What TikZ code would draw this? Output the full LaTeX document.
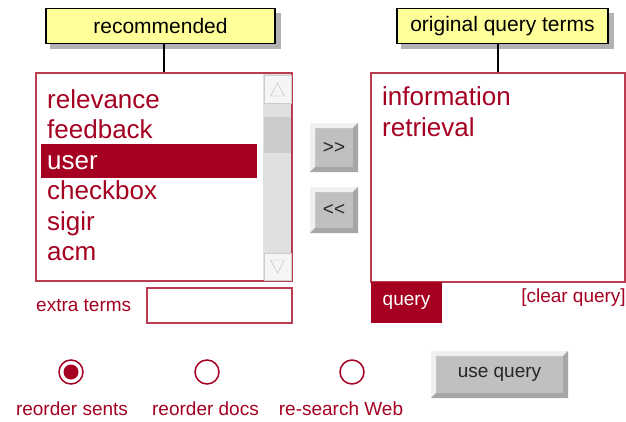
\documentclass[tikz,border=0pt]{standalone}
\usepackage{fontspec}
\setmainfont{Liberation Sans}
\usetikzlibrary{positioning,backgrounds}
\definecolor{darkred}{RGB}{165,0,33}
\definecolor{framered}{RGB}{185,60,80}
\definecolor{labelyellow}{RGB}{255,255,153}
\definecolor{scrollgray}{RGB}{224,224,224}
\definecolor{thumbgray}{RGB}{204,204,204}
\definecolor{btngray}{RGB}{192,192,192}
\begin{document}
\begin{tikzpicture}[x=1pt, y=-1pt,
	tag/.style={draw, line width=1.5pt, fill=labelyellow, minimum width=229pt, minimum height=35pt, font=\fontsize{21}{24}\selectfont},
	tagshadow/.style={fill=gray!60},
	listbox/.style={draw=framered, line width=1.5pt, fill=white, rectangle, inner sep=0pt},
	item/.style={anchor=base west, inner sep=0pt, font=\fontsize{26}{30}\selectfont},
	smalltext/.style={text=darkred, inner sep=0pt, font=\fontsize{19}{22}\selectfont},
	bevelbtn/.style={fill=btngray, inner sep=0pt, text=black!85, font=\fontsize{19}{22}\selectfont,
		path picture={
			\fill[gray!12] (path picture bounding box.north west) -- (path picture bounding box.north east)
				-- ([shift={(-5pt,-5pt)}]path picture bounding box.north east) -- ([shift={(5pt,-5pt)}]path picture bounding box.north west)
				-- ([shift={(5pt,5pt)}]path picture bounding box.south west) -- (path picture bounding box.south west) -- cycle;
			\fill[gray!70] (path picture bounding box.south east) -- (path picture bounding box.south west)
				-- ([shift={(5pt,5pt)}]path picture bounding box.south west) -- ([shift={(-5pt,5pt)}]path picture bounding box.south east)
				-- ([shift={(-5pt,-5pt)}]path picture bounding box.north east) -- (path picture bounding box.north east) -- cycle;
		}},
	radio/.style={circle, draw=darkred, line width=1.5pt, minimum size=24pt, inner sep=0pt},
	radio on/.style={path picture={\fill[darkred] (path picture bounding box.center) circle (7.5pt);}}]
	\useasboundingbox (0,0) rectangle (626,421);

	% labels on top
	\node (reclabel) [tag] at (160.5,26) {recommended};
	\node (querylabel) [tag, minimum width=211pt] at (502.5,26) {original query terms};

	\begin{scope}[on background layer]
		\fill[white] (0,0) rectangle (626,421);
		\fill[tagshadow] ([shift={(5pt,-5pt)}]reclabel.south west) rectangle ([shift={(5pt,-5pt)}]reclabel.north east);
		\fill[tagshadow] ([shift={(5pt,-5pt)}]querylabel.south west) rectangle ([shift={(5pt,-5pt)}]querylabel.north east);
	\end{scope}

	% the two lists
	\node (reclist) [listbox, minimum width=256pt, minimum height=208pt] at (164,177) {};
	\node (querylist) [listbox, minimum width=254pt, minimum height=209pt] at (498,177.5) {};

	\draw [line width=1.5pt] (reclist.north) -- (reclist.north |- reclabel.south);
	\draw [line width=1.5pt] (querylist.north) -- (querylist.north |- querylabel.south);

	% scroll bar
	\fill [scrollgray] (263,74) rectangle (291.25,280.25);
	\draw [gray!40, fill=gray!8] (264,75) rectangle (291,103);
	\draw [gray!55] (270.5,96) -- (277.5,83) -- (284.5,96) -- cycle;
	\fill [thumbgray] (264,117) rectangle (291,153);
	\draw [gray!40, fill=gray!8] (264,253) rectangle (291,280);
	\draw [gray!55] (270.5,260) -- (284.5,260) -- (277.5,273) -- cycle;

	\node (selbar) [fill=darkred, minimum width=216pt, minimum height=34pt, inner sep=0pt] at (149,161) {};
	\foreach \word/\col [count=\i] in {relevance/darkred, feedback/darkred, user/white, checkbox/darkred, sigir/darkred, acm/darkred}
		\node (item\i) [item, text=\col] at (47,77.5+30.5*\i) {\word};

	\node (information) [item, text=darkred] at (382,105) {information};
	\node (retrieval) [item, text=darkred] at (382,136) {retrieval};

	% move buttons
	\node (addbtn) [bevelbtn, minimum width=48pt, minimum height=49pt] at (334,147.5) {\mbox{>}\mbox{>}};
	\node (removebtn) [bevelbtn, minimum width=48pt, minimum height=46pt] at (334,210) {\mbox{<}\mbox{<}};

	\node (querytab) [fill=darkred, text=white, minimum width=71pt, minimum height=41pt, inner sep=0pt, font=\fontsize{19}{22}\selectfont] at (406.5,302.5) {query};
	\node (clearlink) [smalltext, anchor=east] at (626,298) {[clear query]};

	\node (extralabel) [smalltext, anchor=west] at (36,305) {extra terms};
	\node (extrabox) [draw=framered, line width=1.5pt, minimum width=145pt, minimum height=35pt] at (219.5,305.5) {};

	% search options
	\node (sents) [radio, radio on] at (71,372) {};
	\node (docs) [radio] at (207,372) {};
	\node (web) [radio] at (352,372) {};
	\node (sentslabel) [smalltext] at (72,409) {reorder sents};
	\node (docslabel) [smalltext] at (205.5,409) {reorder docs};
	\node (weblabel) [smalltext] at (341,409) {re-search Web};

	\node (usebtn) [bevelbtn, minimum width=137pt, minimum height=47pt] at (499.5,374.5) {use query};
\end{tikzpicture}
\end{document}
